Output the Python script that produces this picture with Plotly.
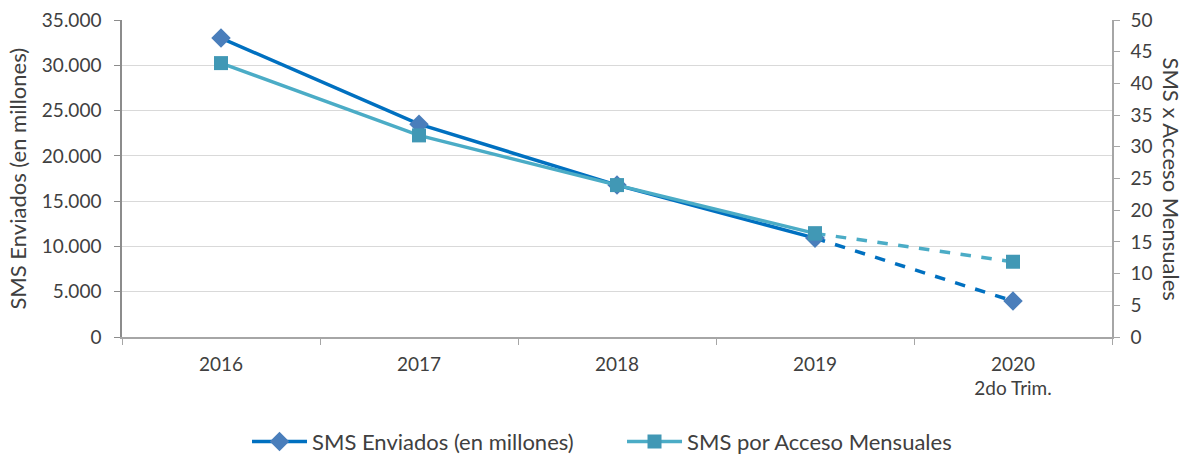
import plotly.graph_objects as go

years = ["2016", "2017", "2018", "2019", "2020<br>2do Trim."]
sms_enviados = [33000, 23500, 16770, 10920, 3970]   # millones, eje izq.
sms_por_acceso = [43.2, 31.8, 23.96, 16.34, 11.87]  # eje der.

azul = "#0070C0"
azul_mk = "#4A7EBB"
celeste = "#4BACC6"
celeste_mk = "#4198B5"
font = "Lato"
gris = "#404040"

fig = go.Figure()

# SMS enviados: solido hasta 2019, punteado al 2020
fig.add_trace(go.Scatter(
    x=years[:4], y=sms_enviados[:4], mode="lines+markers",
    name="SMS Enviados (en millones)",
    line=dict(color=azul, width=3.5),
    marker=dict(symbol="diamond", size=15, color=azul_mk),
))
fig.add_trace(go.Scatter(
    x=years[3:], y=sms_enviados[3:], mode="lines", showlegend=False,
    line=dict(color=azul, width=3.5, dash="dash"),
))
fig.add_trace(go.Scatter(
    x=years[3:], y=sms_enviados[3:], mode="markers", showlegend=False,
    marker=dict(symbol="diamond", size=15, color=azul_mk),
))

# SMS por acceso, eje derecho
fig.add_trace(go.Scatter(
    x=years[:4], y=sms_por_acceso[:4], mode="lines+markers",
    name="SMS por Acceso Mensuales", yaxis="y2",
    line=dict(color=celeste, width=3.5),
    marker=dict(symbol="square", size=14, color=celeste_mk),
))
fig.add_trace(go.Scatter(
    x=years[3:], y=sms_por_acceso[3:], mode="lines", showlegend=False, yaxis="y2",
    line=dict(color=celeste, width=3.5, dash="dash"),
))
fig.add_trace(go.Scatter(
    x=years[3:], y=sms_por_acceso[3:], mode="markers", showlegend=False, yaxis="y2",
    marker=dict(symbol="square", size=14, color=celeste_mk),
))

fig.update_layout(
    width=1191, height=454,
    margin=dict(l=122, r=79, t=20, b=117),
    plot_bgcolor="white", paper_bgcolor="white",
    font=dict(family=font, size=19, color=gris),
    separators=",.",
    xaxis=dict(
        type="category", range=[-0.5, 4.5], tickson="boundaries",
        ticks="outside", ticklen=6,
        tickcolor="#A6A6A6", showline=True, linecolor="#A6A6A6", linewidth=1.5,
        showgrid=False, tickfont=dict(size=19), automargin=False,
        ticklabelstandoff=9,
    ),
    yaxis=dict(
        range=[0, 35000], dtick=5000, tickformat=",d",
        ticks="outside", ticklen=6, tickcolor="#8C8C8C",
        showline=True, linecolor="#8C8C8C", linewidth=1.5,
        gridcolor="#D9D9D9", gridwidth=1.2, zeroline=False, automargin=False,
        ticklabeloverflow="allow", ticklabelstandoff=9,
    ),
    yaxis2=dict(
        range=[0, 50], dtick=5, overlaying="y", side="right",
        ticks="outside", ticklen=6, tickcolor="#A6A6A6",
        showline=True, linecolor="#A6A6A6", linewidth=1.5,
        showgrid=False, zeroline=False, automargin=False,
        ticklabeloverflow="allow", ticklabelstandoff=7,
    ),
    legend=dict(
        orientation="h", xref="container", x=0.2074, xanchor="left",
        yref="container", y=0.027, yanchor="middle",
        font=dict(size=22), itemwidth=55,
        entrywidth=305, entrywidthmode="pixels",
    ),
    annotations=[
        dict(text="SMS Enviados (en millones)", textangle=-90,
             xref="paper", yref="paper", x=-0.106, y=0.5,
             xanchor="center", yanchor="middle", showarrow=False,
             font=dict(size=22)),
        dict(text="SMS x Acceso Mensuales", textangle=90,
             xref="paper", yref="paper", x=1.0596, y=0.5,
             xanchor="center", yanchor="middle", showarrow=False,
             font=dict(size=22)),
    ],
)

# quitar el margen por defecto del body
fig.write_html("out.html", config={"displayModeBar": False},
               post_script="document.body.style.margin='0';")
